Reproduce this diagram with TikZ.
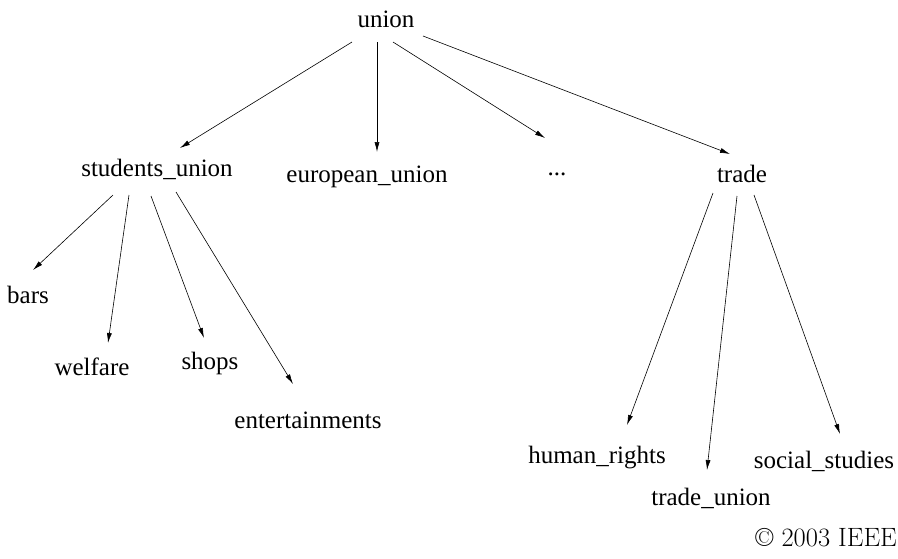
\documentclass[tikz,border=0pt]{standalone}
\usepackage{fontspec}
\newfontfamily\labelfont{Liberation Serif}
\usetikzlibrary{arrows.meta}

\tikzset{
  term/.style={inner sep=0pt, anchor=base, font=\labelfont\fontsize{25}{30}\selectfont},
  link/.style={line width=0.6pt, -{Latex[length=10pt,width=5pt]}},
}

\begin{document}
\begin{tikzpicture}[x=1pt, y=-1pt]
  \useasboundingbox (0,0) rectangle (898,558);

  % root
  \node[term] (union) at (386,27) {union};

  % first level
  \node[term] (su)    at (157,176) {students\_union};
  \node[term] (eu)    at (367,182) {european\_union};
  \node[term] (dots)  at (557,175) {...};
  \node[term] (trade) at (742,182) {trade};

  % children of students_union
  \node[term] (bars)    at (28,303)  {bars};
  \node[term] (welfare) at (92,375)  {welfare};
  \node[term] (shops)   at (210,369) {shops};
  \node[term] (ent)     at (308,428) {entertainments};

  % children of trade
  \node[term] (hr) at (597,463) {human\_rights};
  \node[term] (tu) at (711,505) {trade\_union};
  \node[term] (ss) at (824,468) {social\_studies};

  % copyright notice
  \node[inner sep=0pt, anchor=base east, font=\fontsize{26.5}{30}\selectfont] (copy) at (897,546) {\textcopyright\ 2003 IEEE};

  % edges from the root
  \draw[link] ([shift={(-34,15)}]union.base) -- ([shift={(23,-28)}]su.base);
  \draw[link] ([shift={(-9,15)}]union.base)  -- ([shift={(10,-30)}]eu.base);
  \draw[link] ([shift={(7,15)}]union.base)   -- ([shift={(-12,-37)}]dots.base);
  \draw[link] ([shift={(37,9)}]union.base)   -- ([shift={(-12,-28)}]trade.base);

  % edges from students_union
  \draw[link] ([shift={(-44,19)}]su.base) -- ([shift={(5,-33)}]bars.base);
  \draw[link] ([shift={(-28,19)}]su.base) -- ([shift={(16,-32)}]welfare.base);
  \draw[link] ([shift={(-6,20)}]su.base)  -- ([shift={(-6,-31)}]shops.base);
  \draw[link] ([shift={(19,16)}]su.base)  -- ([shift={(-15,-44)}]ent.base);

  % edges from trade
  \draw[link] ([shift={(-29,11)}]trade.base) -- ([shift={(30,-38)}]hr.base);
  \draw[link] ([shift={(-5,14)}]trade.base)  -- ([shift={(-4,-35)}]tu.base);
  \draw[link] ([shift={(12,13)}]trade.base)  -- ([shift={(16,-34)}]ss.base);
\end{tikzpicture}
\end{document}
